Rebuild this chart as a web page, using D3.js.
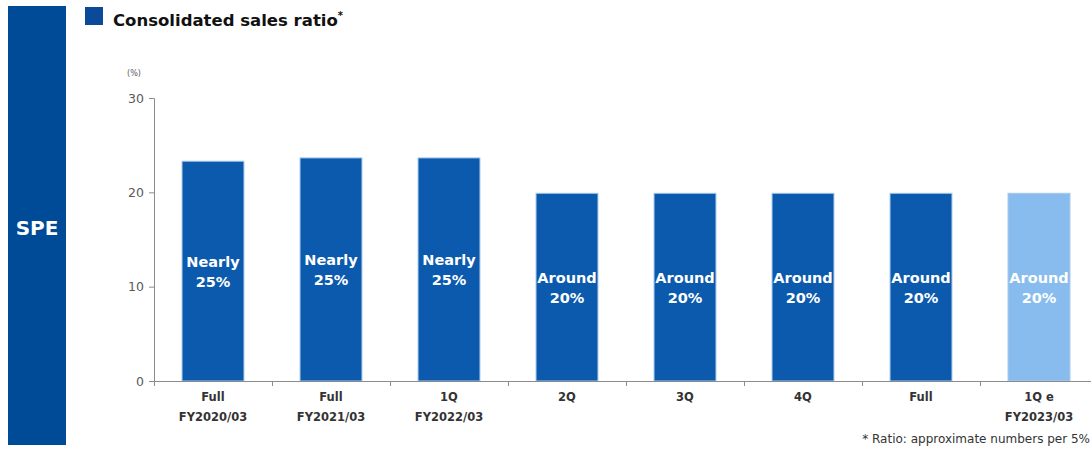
<!DOCTYPE html>
<head>
<meta charset="utf-8">
<title>Consolidated sales ratio</title>
<script src="https://cdn.jsdelivr.net/npm/d3@7"></script>
<style>
  body { margin: 0; background: #fff; }
  svg { display: block; font-family: "DejaVu Sans", sans-serif; }
</style>
</head>
<body>
<svg width="1091" height="450"></svg>
<script>
var lineOne = ['Full', 'Full', '1Q', '2Q', '3Q', '4Q', 'Full', '1Q e']
  , lineTwo = ['FY2020/03', 'FY2021/03', 'FY2022/03', '', '', '', '', 'FY2023/03']
  , ratio = [23.3, 23.65, 23.65, 19.9, 19.9, 19.9, 19.9, 19.9]
  , wordTop = ['Nearly', 'Nearly', 'Nearly', 'Around', 'Around', 'Around', 'Around', 'Around']
  , wordBottom = ['25%', '25%', '25%', '20%', '20%', '20%', '20%', '20%']
  , estimate = [false, false, false, false, false, false, false, true]
  , yTicks = [0, 10, 20, 30]

var svg = d3.select('svg')

// side tab
svg.append('rect').attr('x', 8).attr('y', 6).attr('width', 58).attr('height', 439).attr('fill', '#004b97')
svg.append('text').attr('x', 37).attr('y', 235).attr('text-anchor', 'middle')
  .attr('fill', '#fff').attr('font-weight', 'bold').attr('font-size', 20).text('SPE')

// heading
svg.append('rect').attr('x', 85).attr('y', 7).attr('width', 18).attr('height', 18).attr('fill', '#0b4a9a')
var h = svg.append('text').attr('x', 113).attr('y', 26).attr('font-weight', 'bold').attr('font-size', 16.5).attr('fill', '#111')
h.append('tspan').text('Consolidated sales ratio')
h.append('tspan').attr('font-size', 10).attr('dy', -7).text('*')

var x = d3.scaleBand().domain(d3.range(lineOne.length)).range([154, 1098])
  .paddingInner(0.475).paddingOuter(0.2375)
var y = d3.scaleLinear().domain([0, 30]).range([381, 98])

svg.append('text').attr('x', 134).attr('y', 76).attr('text-anchor', 'middle')
  .attr('font-size', 8).attr('fill', '#595959').text('(%)')

// bars
svg.selectAll('rect.bar').data(ratio).enter().append('rect')
  .attr('class', 'bar')
  .attr('x', function (d, i) { return x(i) })
  .attr('y', function (d) { return y(d) })
  .attr('width', x.bandwidth())
  .attr('height', function (d) { return y(0) - y(d) })
  .attr('fill', function (d, i) { return estimate[i] ? '#88bbee' : '#0b5aad' })
  .attr('stroke', '#a9c9ec').attr('stroke-width', 1)

var lab = svg.selectAll('text.lab').data(ratio).enter().append('text')
  .attr('class', 'lab')
  .attr('text-anchor', 'middle').attr('fill', '#fff').attr('font-weight', 'bold').attr('font-size', 14.5)
  .attr('transform', function (d, i) { return 'translate(' + (x(i) + x.bandwidth() / 2) + ',' + (y(d / 2)) + ')' })
lab.append('tspan').attr('x', 0).attr('y', -4).text(function (d, i) { return wordTop[i] })
lab.append('tspan').attr('x', 0).attr('y', 16).text(function (d, i) { return wordBottom[i] })

// y axis
var ya = svg.append('g').attr('transform', 'translate(154,0)')
  .call(d3.axisLeft(y).tickValues(yTicks).tickSize(5).tickPadding(5))
ya.select('.domain').attr('stroke', '#8c8c8c')
ya.selectAll('.tick line').attr('stroke', '#8c8c8c')
ya.selectAll('.tick text').attr('font-size', 12.5).attr('fill', '#595959').attr('font-family', '"DejaVu Sans", sans-serif')

// x axis with ticks on band edges
svg.append('line').attr('x1', 154).attr('x2', 1091).attr('y1', 381.5).attr('y2', 381.5).attr('stroke', '#8c8c8c')
svg.selectAll('line.xt').data(d3.range(lineOne.length + 1)).enter().append('line')
  .attr('class', 'xt')
  .attr('x1', function (i) { return Math.round(x.range()[0] + i * x.step()) + 0.5 })
  .attr('x2', function (i) { return Math.round(x.range()[0] + i * x.step()) + 0.5 })
  .attr('y1', 381).attr('y2', 386).attr('stroke', '#8c8c8c')

var xl = svg.selectAll('text.xl').data(lineOne).enter().append('text')
  .attr('class', 'xl').attr('text-anchor', 'middle').attr('font-weight', 'bold')
  .attr('font-size', 11.5).attr('fill', '#333')
  .attr('transform', function (d, i) { return 'translate(' + (x(i) + x.bandwidth() / 2) + ',0)' })
xl.append('tspan').attr('x', 0).attr('y', 401).text(function (d) { return d })
xl.append('tspan').attr('x', 0).attr('y', 421).text(function (d, i) { return lineTwo[i] })

svg.append('text').attr('x', 1090).attr('y', 443).attr('text-anchor', 'end')
  .attr('font-size', 12).attr('fill', '#333').text('* Ratio: approximate numbers per 5%')
</script>
</body>
